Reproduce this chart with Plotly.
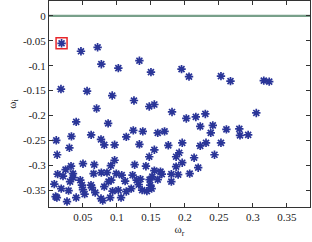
import plotly.graph_objects as go

# eigenvalue real parts (omega_r) and imaginary parts (omega_i)
omega_r = [
    0.0185, 0.047, 0.0715, 0.077, 0.102, 0.133, 0.150, 0.0176, 0.056, 0.093,
    0.125, 0.1475, 0.155, 0.070, 0.181, 0.040, 0.087, 0.195, 0.206, 0.253,
    0.267, 0.316, 0.324, 0.202, 0.216, 0.230, 0.305, 0.2225, 0.241, 0.238,
    0.261, 0.280, 0.281, 0.293, 0.160, 0.170, 0.1755, 0.196, 0.155, 0.2225,
    0.231, 0.253, 0.2435, 0.1915, 0.187, 0.2135, 0.196, 0.187, 0.2195, 0.155,
    0.164, 0.166, 0.180, 0.190, 0.207, 0.160, 0.180, 0.149, 0.151,
    0.0107, 0.012, 0.033, 0.030, 0.062, 0.0965, 0.1137, 0.124, 0.138,
    0.133, 0.1475, 0.0965, 0.091, 0.050, 0.0666, 0.0324, 0.126, 0.1426, 0.0244,
    0.0127, 0.0206, 0.0353, 0.0353, 0.031, 0.0078, 0.018, 0.0288, 0.0097, 0.0116,
    0.0265, 0.040, 0.046, 0.0485, 0.050, 0.0524, 0.0656, 0.0618, 0.0632, 0.068,
    0.077, 0.0853, 0.0765, 0.079, 0.0813, 0.0876, 0.0916, 0.090, 0.0935, 0.099,
    0.107, 0.102, 0.106, 0.112, 0.1137, 0.121, 0.123, 0.129, 0.132, 0.137,
    0.144, 0.148, 0.152, 0.0765, 0.0813, 0.1345,
]
omega_i = [
    -0.055, -0.071, -0.063, -0.097, -0.105, -0.090, -0.113, -0.147, -0.151, -0.160,
    -0.170, -0.182, -0.178, -0.186, -0.193, -0.213, -0.216, -0.107, -0.122, -0.121,
    -0.131, -0.130, -0.132, -0.206, -0.203, -0.197, -0.195, -0.222, -0.220, -0.235,
    -0.228, -0.227, -0.240, -0.239, -0.235, -0.232, -0.260, -0.255, -0.269, -0.261,
    -0.255, -0.255, -0.279, -0.275, -0.283, -0.285, -0.295, -0.303, -0.305, -0.311,
    -0.313, -0.318, -0.318, -0.319, -0.317, -0.329, -0.333, -0.340, -0.347,
    -0.250, -0.279, -0.242, -0.265, -0.239, -0.259, -0.243, -0.230, -0.232,
    -0.258, -0.283, -0.290, -0.301, -0.297, -0.299, -0.302, -0.299, -0.302, -0.309,
    -0.318, -0.322, -0.317, -0.325, -0.333, -0.338, -0.347, -0.351, -0.363, -0.365,
    -0.373, -0.365, -0.330, -0.340, -0.349, -0.358, -0.317, -0.340, -0.345, -0.355,
    -0.315, -0.315, -0.367, -0.371, -0.343, -0.333, -0.330, -0.365, -0.352, -0.317,
    -0.320, -0.350, -0.365, -0.332, -0.353, -0.347, -0.320, -0.330, -0.339, -0.350,
    -0.352, -0.329, -0.323, -0.248, -0.259, -0.328,
]

# highlighted (least stable) eigenvalue
marked_r = [0.0185]
marked_i = [-0.055]

x_range = [0.0, 0.384]
y_range = [-0.384, 0.03]
x_ticks = [0.05, 0.1, 0.15, 0.2, 0.25, 0.3, 0.35]
x_ticktext = ["0.05", "0.1", "0.15", "0.2", "0.25", "0.3", "0.35"]
y_ticks = [0, -0.05, -0.1, -0.15, -0.2, -0.25, -0.3, -0.35]
y_ticktext = ["0", "-0.05", "-0.1", "-0.15", "-0.2", "-0.25", "-0.3", "-0.35"]

fig = go.Figure()

# zero line
fig.add_trace(go.Scatter(
    x=x_range, y=[0, 0], mode="lines",
    line=dict(color="#78a08a", width=2.2), hoverinfo="skip", showlegend=False,
))

fig.add_trace(go.Scatter(
    x=omega_r, y=omega_i, mode="markers",
    marker=dict(symbol="asterisk-open", size=7, color="#2a3598",
                line=dict(color="#2a3598", width=1.7)),
    showlegend=False,
))

fig.add_trace(go.Scatter(
    x=marked_r, y=marked_i, mode="markers",
    marker=dict(symbol="square-open", size=11, color="#e8262a",
                line=dict(color="#e8262a", width=1.5)),
    showlegend=False,
))

font = dict(family="Liberation Serif, Times New Roman, serif", size=11, color="#222")

axis_common = dict(
    showline=True, linecolor="#333", linewidth=1, mirror="ticks",
    ticks="inside", ticklen=4, tickcolor="#333", showgrid=False,
    zeroline=False, tickfont=font,
)

fig.update_layout(
    width=312, height=242,
    margin=dict(l=49, r=2, t=1, b=35),
    paper_bgcolor="white", plot_bgcolor="white",
    xaxis=dict(range=x_range, tickvals=x_ticks, ticktext=x_ticktext,
               title=dict(text="ω<sub>r</sub>", font=font, standoff=1),
               automargin=False, **axis_common),
    yaxis=dict(range=y_range, tickvals=y_ticks, ticktext=y_ticktext,
               title=dict(text="ω<sub>i</sub>", font=font, standoff=4),
               automargin=False, **axis_common),
)

fig.write_html("out.html", config={"displayModeBar": False},
               post_script="document.body.style.margin='0';document.body.style.overflow='hidden';")
